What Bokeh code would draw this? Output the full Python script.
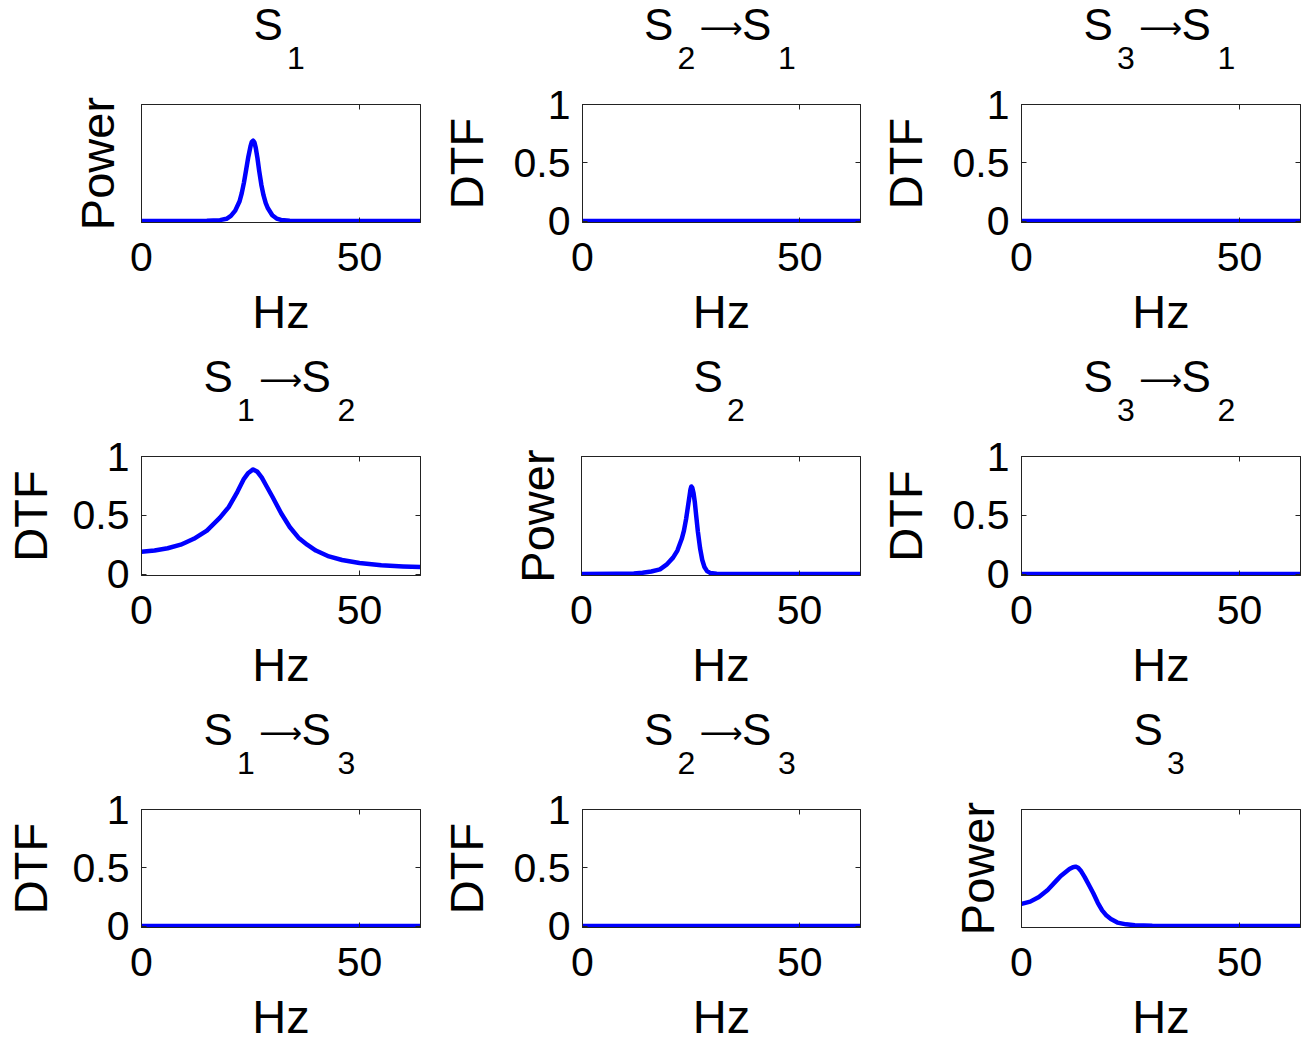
from bokeh.plotting import figure
from bokeh.layouts import column, row
from bokeh.models import Range1d, FixedTicker, LinearAxis, CustomJSTickFormatter
from bokeh.core.properties import value
from bokeh.embed import file_html
from bokeh.resources import INLINE

# ---------------- data ----------------
s1_hz = [0, 10, 15, 18, 19.5, 20.5, 21.5, 22.5, 23, 23.5, 24, 24.5, 25, 25.3, 25.6, 25.9, 26.2, 26.6, 27, 27.5, 28, 28.5, 29, 30, 31, 32, 34, 40, 64]
s1_power = [0.0, 0.0, 0.002, 0.008, 0.02, 0.045, 0.09, 0.17, 0.24, 0.33, 0.44, 0.55, 0.64, 0.68, 0.69, 0.675, 0.63, 0.54, 0.43, 0.31, 0.22, 0.155, 0.11, 0.05, 0.022, 0.01, 0.004, 0.001, 0.0]

s2_hz = [0, 8, 12, 14, 16, 18, 19.5, 21, 22, 23, 23.5, 24, 24.4, 24.8, 25.0, 25.2, 25.4, 25.7, 26.0, 26.3, 26.7, 27.2, 27.7, 28.2, 28.8, 29.5, 31, 35, 64]
s2_power = [0.0, 0.002, 0.006, 0.012, 0.022, 0.04, 0.08, 0.14, 0.20, 0.30, 0.37, 0.47, 0.57, 0.67, 0.72, 0.745, 0.735, 0.69, 0.61, 0.50, 0.36, 0.22, 0.12, 0.06, 0.025, 0.01, 0.003, 0.001, 0.0]

s3_hz = [0, 2, 4, 6, 8, 9, 10, 11, 11.8, 12.4, 13, 13.7, 14.5, 15.5, 16.5, 17.5, 18.5, 19.5, 20.5, 22, 24, 26, 30, 40, 64]
s3_power = [0.19, 0.21, 0.25, 0.31, 0.39, 0.43, 0.46, 0.49, 0.505, 0.51, 0.50, 0.47, 0.42, 0.35, 0.28, 0.20, 0.135, 0.09, 0.06, 0.03, 0.015, 0.008, 0.003, 0.001, 0.0]

dtf12_hz = [0, 3, 6, 9, 12, 15, 18, 20, 22, 23.5, 24.5, 25.6, 26.6, 27.6, 28.5, 30, 32, 34, 36, 38, 40, 43, 46, 50, 55, 60, 64]
dtf12 = [0.19, 0.20, 0.22, 0.25, 0.30, 0.37, 0.48, 0.57, 0.70, 0.81, 0.86, 0.89, 0.87, 0.82, 0.76, 0.66, 0.52, 0.40, 0.31, 0.25, 0.20, 0.15, 0.12, 0.095, 0.075, 0.065, 0.06]

zero_hz = [0, 64]
zero_dtf = [0.0, 0.0]

x_ticks = [0, 50]
dtf_ticks = [0, 0.5, 1]

# titles: (source, target); target None means a power plot of the source
titles = [("1", None), ("2", "1"), ("3", "1"),
          ("1", "2"), ("2", None), ("3", "2"),
          ("1", "3"), ("2", "3"), ("3", None)]
curves = [(s1_hz, s1_power), (zero_hz, zero_dtf), (zero_hz, zero_dtf),
          (dtf12_hz, dtf12), (s2_hz, s2_power), (zero_hz, zero_dtf),
          (zero_hz, zero_dtf), (zero_hz, zero_dtf), (s3_hz, s3_power)]

# ---------------- styling / layout ----------------
FONT = "Liberation Sans"
ARROW_FONT = "DejaVu Sans"
TICK_FS = "41px"
LABEL_FS = "47px"
TITLE_FS = "44px"
SUB_FS = "32px"
ARROW_FS = "30px"
LINE_BLUE = "#0000ff"
AX_COL = "#222222"

col_left = [141, 145, 149]
col_right = [16, 12, 8]
row_top = [104, 108, 113]
row_bottom = [126, 121, 118]
row_h = [348, 348, 349]
title_h = [77, 81, 86]
CELL_W = 436


def style_axis(ax):
    ax.axis_line_color = AX_COL
    ax.major_tick_line_color = AX_COL
    ax.major_tick_in = 5
    ax.major_tick_out = 0
    ax.minor_tick_line_color = None
    ax.major_label_text_font = FONT
    ax.major_label_text_font_size = TICK_FS
    ax.major_label_text_color = "black"
    ax.axis_label_text_font = FONT
    ax.axis_label_text_font_size = LABEL_FS
    ax.axis_label_text_font_style = "normal"
    ax.axis_label_text_color = "black"


def title_fig(src, dst, r):
    # x frame aligned with the plot below; y measured in px above that plot's frame top
    th = title_h[r]
    t = figure(width=CELL_W, height=th, output_backend="svg", toolbar_location=None,
               title_location=None, x_range=Range1d(0, 64),
               y_range=Range1d(row_top[r] - th, row_top[r]),
               x_axis_location=None, y_axis_location=None, min_border=0)
    t.grid.visible = False
    t.outline_line_color = None
    t.border_fill_color = "white"
    main_y = 80
    sub_y = 46.5
    if dst is None:
        start = -27.5
        mains = [("S", start)]
        subs = [(src, start + 33.5)]
        arrows = []
    else:
        start = -77.5
        mains = [("S", start), ("S", start + 98)]
        subs = [(src, start + 33.5), (dst, start + 134)]
        arrows = [("⟶", start + 77)]
    t.text(x=[32] * len(mains), y=[main_y] * len(mains), x_offset=[o for _, o in mains],
           text=[s for s, _ in mains], text_font=value(FONT), text_font_size=value(TITLE_FS),
           text_color="black", text_align="left", text_baseline="middle")
    t.text(x=[32] * len(subs), y=[sub_y] * len(subs), x_offset=[o for _, o in subs],
           text=[s for s, _ in subs], text_font=value(FONT), text_font_size=value(SUB_FS),
           text_color="black", text_align="left", text_baseline="middle")
    if arrows:
        t.text(x=[32], y=[77.5], x_offset=[arrows[0][1]], text=[arrows[0][0]],
               text_font=value(ARROW_FONT), text_font_size=value(ARROW_FS), text_color="black",
               text_align="center", text_baseline="middle")
    return t


rows = []
cells = []
for i in range(9):
    r, c = divmod(i, 3)
    src, dst = titles[i]
    kind = "Power" if dst is None else "DTF"
    xs, ys = curves[i]
    p = figure(width=CELL_W, height=row_h[r] - title_h[r], output_backend="svg", toolbar_location=None,
               x_range=Range1d(0, 64), y_range=Range1d(-0.012, 1),
               min_border_left=col_left[c], min_border_right=col_right[c],
               min_border_top=row_top[r] - title_h[r], min_border_bottom=row_bottom[r],
               x_axis_label="Hz", y_axis_label=kind)
    p.grid.visible = False
    p.outline_line_color = AX_COL
    p.background_fill_color = "white"
    p.border_fill_color = "white"

    xa = p.xaxis[0]
    ya = p.yaxis[0]
    style_axis(xa)
    style_axis(ya)
    xa.ticker = FixedTicker(ticks=x_ticks)
    xa.major_label_standoff = 20
    xa.axis_label_standoff = 11
    if kind == "DTF":
        ya.ticker = FixedTicker(ticks=dtf_ticks)
        ya.formatter = CustomJSTickFormatter(code="return tick.toString();")
        ya.major_label_standoff = 12
        ya.axis_label_standoff = 13 if c == 0 else 18
    else:
        ya.ticker = FixedTicker(ticks=[])
        ya.major_label_standoff = 0
        ya.axis_label_standoff = 18

    # mirrored tick marks (box on)
    top = LinearAxis(ticker=FixedTicker(ticks=x_ticks),
                     formatter=CustomJSTickFormatter(code="return '';"))
    right = LinearAxis(ticker=FixedTicker(ticks=dtf_ticks if kind == "DTF" else []),
                       formatter=CustomJSTickFormatter(code="return '';"))
    for ax in (top, right):
        style_axis(ax)
        ax.major_label_standoff = 0
        ax.major_label_text_font_size = "1px"
    p.add_layout(top, "above")
    p.add_layout(right, "right")

    p.line(xs, ys, line_color=LINE_BLUE, line_width=4.5, line_join="round")

    cells.append(column(title_fig(src, dst, r), p, spacing=0))
    if c == 2:
        rows.append(row(*cells, spacing=0))
        cells = []

layout = column(*rows, spacing=0)

open("out.html", "w").write(file_html(layout, INLINE))
